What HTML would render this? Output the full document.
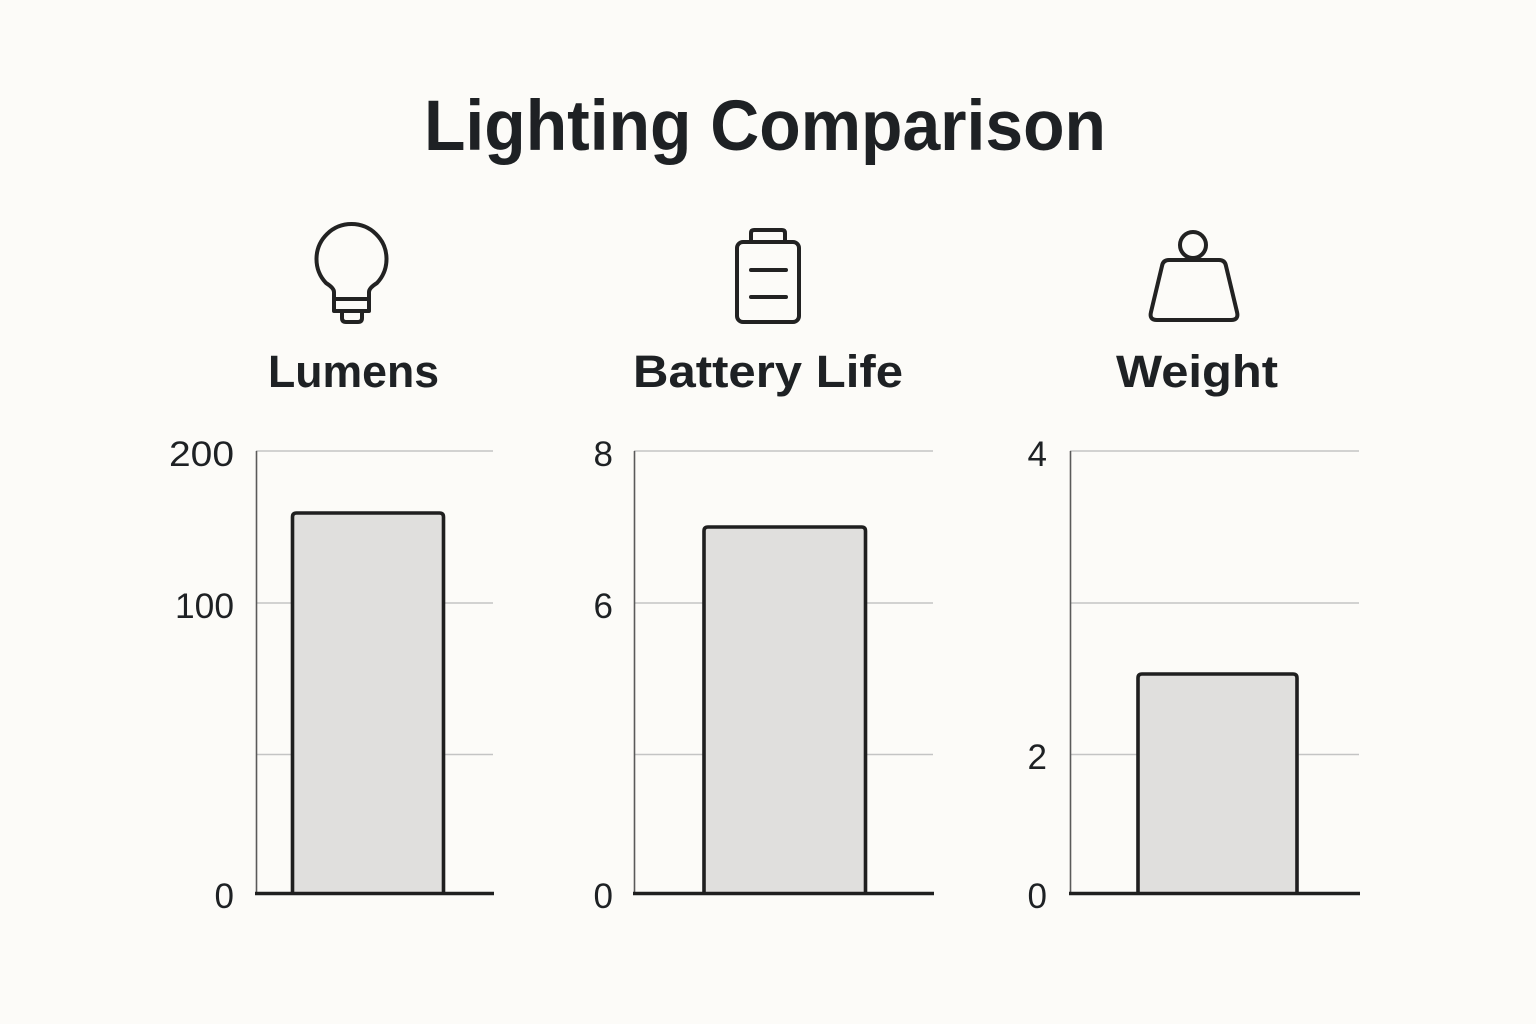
<!DOCTYPE html>
<html>
<head>
<meta charset="utf-8">
<style>
  html,body{margin:0;padding:0;background:#fcfbf8;}
  svg{display:block;}
  text{font-family:"Liberation Sans",sans-serif;fill:#1e2124;}
</style>
</head>
<body>
<svg width="1536" height="1024" viewBox="0 0 1536 1024" xmlns="http://www.w3.org/2000/svg">
  <rect x="0" y="0" width="1536" height="1024" fill="#fcfbf8"/>

  <!-- Title -->
  <text x="424" y="150" font-size="71" font-weight="bold" textLength="682" lengthAdjust="spacingAndGlyphs">Lighting Comparison</text>

  <!-- Icons -->
  <g fill="none" stroke="#222" stroke-width="4" stroke-linejoin="round" stroke-linecap="round">
    <!-- bulb -->
    <path d="M334 311 L334 292 Q334 288 326 283 A35 35 0 1 1 377 283 Q369 288 369 292 L369 311 Z"/>
    <line x1="334" y1="299" x2="369" y2="299"/>
    <path d="M342 311 L342 318 Q342 322 346 322 L358 322 Q362 322 362 318 L362 311"/>
    <!-- battery -->
    <rect x="737" y="242" width="62" height="80" rx="6"/>
    <path d="M751 242 L751 233 Q751 230 754 230 L782 230 Q785 230 785 233 L785 242"/>
    <line x1="751" y1="270" x2="786" y2="270"/>
    <line x1="751" y1="297" x2="786" y2="297"/>
    <!-- weight -->
    <circle cx="1193" cy="245" r="13"/>
    <path d="M1169 260 L1219 260 Q1225 260 1226 266 L1237 312 Q1239 320 1231 320 L1157 320 Q1149 320 1151 312 L1162 266 Q1163 260 1169 260 Z"/>
  </g>

  <!-- Subtitles -->
  <text x="268" y="387" font-size="45" font-weight="bold" textLength="171" lengthAdjust="spacingAndGlyphs">Lumens</text>
  <text x="633" y="387" font-size="45" font-weight="bold" textLength="270" lengthAdjust="spacingAndGlyphs">Battery Life</text>
  <text x="1116" y="387" font-size="45" font-weight="bold" textLength="162" lengthAdjust="spacingAndGlyphs">Weight</text>

  <!-- Gridlines -->
  <g stroke="#c4c4c4" stroke-width="1.5">
    <line x1="256" y1="451" x2="493" y2="451"/>
    <line x1="256" y1="603" x2="493" y2="603"/>
    <line x1="256" y1="754.5" x2="493" y2="754.5"/>
    <line x1="634" y1="451" x2="933" y2="451"/>
    <line x1="634" y1="603" x2="933" y2="603"/>
    <line x1="634" y1="754.5" x2="933" y2="754.5"/>
    <line x1="1070" y1="451" x2="1359" y2="451"/>
    <line x1="1070" y1="603" x2="1359" y2="603"/>
    <line x1="1070" y1="754.5" x2="1359" y2="754.5"/>
  </g>

  <!-- Vertical axes -->
  <g stroke="#5a5a5a" stroke-width="1.6">
    <line x1="256.5" y1="451" x2="256.5" y2="893"/>
    <line x1="634.5" y1="451" x2="634.5" y2="893"/>
    <line x1="1070.5" y1="451" x2="1070.5" y2="893"/>
  </g>

  <!-- Bars (rounded top, flat bottom at baseline) -->
  <g fill="#e0dfdd" stroke="#1f1f1f" stroke-width="3.6" stroke-linejoin="round">
    <path d="M292.5 893.5 L292.5 517 Q292.5 513 296.5 513 L439.5 513 Q443.5 513 443.5 517 L443.5 893.5"/>
    <path d="M704 893.5 L704 531 Q704 527 708 527 L861.5 527 Q865.5 527 865.5 531 L865.5 893.5"/>
    <path d="M1138 893.5 L1138 678 Q1138 674 1142 674 L1293 674 Q1297 674 1297 678 L1297 893.5"/>
  </g>

  <!-- Baselines -->
  <g stroke="#1f1f1f" stroke-width="3.5">
    <line x1="255" y1="893.5" x2="494" y2="893.5"/>
    <line x1="633" y1="893.5" x2="934" y2="893.5"/>
    <line x1="1069" y1="893.5" x2="1360" y2="893.5"/>
  </g>

  <!-- Tick labels -->
  <g font-size="35" text-anchor="end">
    <text x="234" y="466" textLength="65" lengthAdjust="spacingAndGlyphs">200</text>
    <text x="234" y="618" textLength="59" lengthAdjust="spacingAndGlyphs">100</text>
    <text x="234" y="908">0</text>

    <text x="613" y="466">8</text>
    <text x="613" y="618">6</text>
    <text x="613" y="908">0</text>

    <text x="1047" y="466">4</text>
    <text x="1047" y="769">2</text>
    <text x="1047" y="908">0</text>
  </g>
</svg>
</body>
</html>
